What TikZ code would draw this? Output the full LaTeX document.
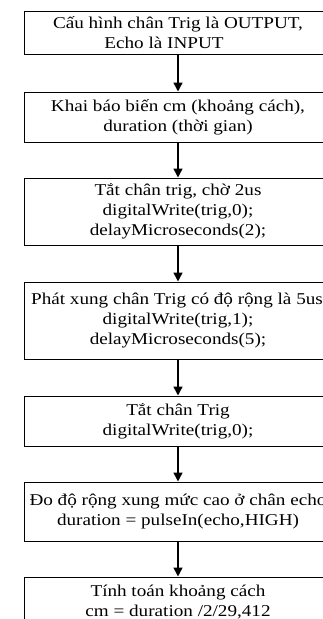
\documentclass[tikz,border=0pt]{standalone}
\usepackage{fontspec}
\setmainfont{Liberation Serif}[FakeStretch=1.16]
\usetikzlibrary{arrows.meta}
\tikzset{
  stepbox/.style={draw, line width=1pt, rectangle, minimum width=308pt, align=center,
    inner sep=0pt, font=\fontsize{16.5}{20}\selectfont},
  flow/.style={line width=1.4pt, -{Triangle[length=9pt,width=9pt]}}
}
\begin{document}
\begin{tikzpicture}[x=1pt,y=-1pt]
\useasboundingbox (0,0) rectangle (323,619);
\clip (0,0) rectangle (323,619);
\fill[white] (0,0) rectangle (323,619);
\node[stepbox, minimum height=43pt] (b1) at (178,32.5) {Cấu hình chân Trig là OUTPUT,\\Echo là INPUT\hspace*{28pt}};
\node[stepbox, minimum height=50pt] (b2) at (178,117) {Khai báo biến cm (khoảng cách),\\duration (thời gian)};
\node[stepbox, minimum height=67pt] (b3) at (178,211.5) {Tắt chân trig, chờ 2us\\digitalWrite(trig,0);\\delayMicroseconds(2);};
\node[stepbox, minimum height=77pt] (b4) at (178,320.5) {Phát xung chân Trig có độ rộng là 5us\hspace*{2pt}\\digitalWrite(trig,1);\\delayMicroseconds(5);};
\node[stepbox, minimum height=50pt] (b5) at (178,421) {Tắt chân Trig\\digitalWrite(trig,0);};
\node[stepbox, minimum height=59pt] (b6) at (178,511.5) {Đo độ rộng xung mức cao ở chân echo\\duration = pulseIn(echo,HIGH)};
\node[stepbox, minimum height=50pt] (b7) at (178,602) {Tính toán khoảng cách\\cm = duration /2/29,412};
\draw[flow] (b1) -- (b2);
\draw[flow] (b2) -- (b3);
\draw[flow] (b3) -- (b4);
\draw[flow] (b4) -- (b5);
\draw[flow] (b5) -- (b6);
\draw[flow] (b6) -- (b7);
\end{tikzpicture}
\end{document}
